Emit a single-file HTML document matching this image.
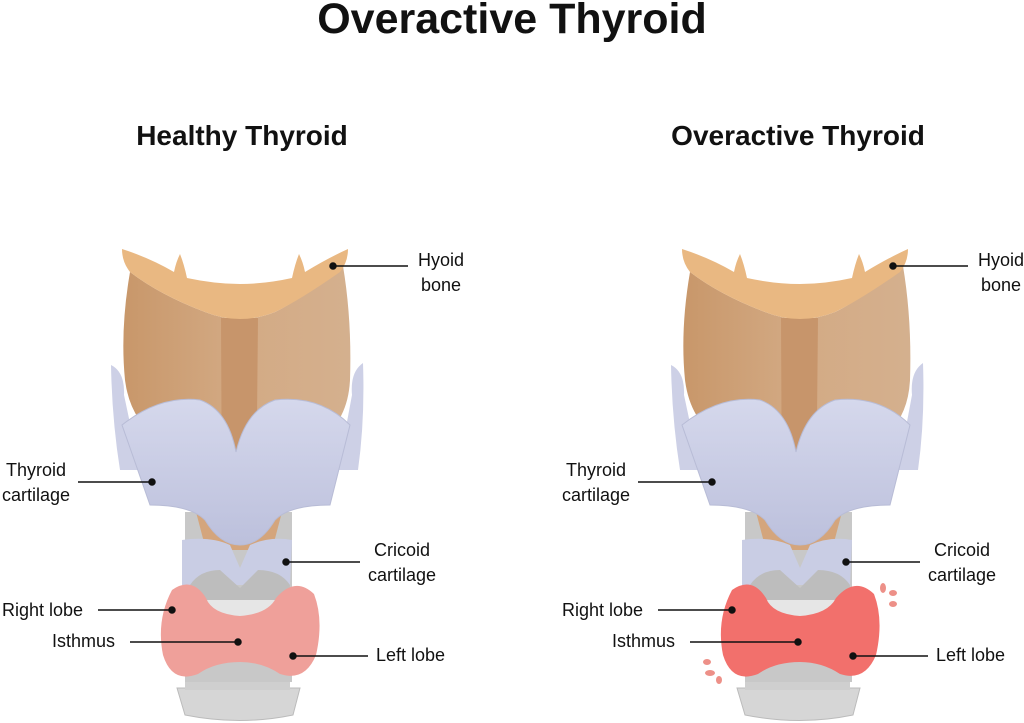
<!DOCTYPE html>
<html><head><meta charset="utf-8"><style>
html,body{margin:0;padding:0;background:#fff;width:1024px;height:723px;overflow:hidden}
svg text{font-family:"Liberation Sans",sans-serif;fill:#111}
</style></head><body>
<svg width="1024" height="723" viewBox="0 0 1024 723" xmlns="http://www.w3.org/2000/svg">
<defs>
<linearGradient id="br" x1="0" x2="1"><stop offset="0" stop-color="#c8976a"/><stop offset="0.5" stop-color="#d3aa84"/><stop offset="1" stop-color="#d4b08e"/></linearGradient>
<linearGradient id="bl" x1="0" x2="0" y1="0" y2="1"><stop offset="0" stop-color="#d5d8ec"/><stop offset="1" stop-color="#bcc0dc"/></linearGradient>
<g id="ill">
  <path d="M177,688 L300,688 L293,715 Q240,726 185,715 Z" fill="#d6d6d6" stroke="#bbb"/>
  <rect x="185" y="675" width="105" height="15" fill="#cfcfcf"/>
  <rect x="185" y="512" width="107" height="170" fill="#c8c8c8"/>
  <rect x="196" y="600" width="88" height="40" fill="#e6e6e6"/>
  <!-- brown body -->
  <path d="M130,272 Q120,330 125,380 Q130,420 160,440 L320,440 Q348,420 350,380 Q352,320 343,266 Q300,300 275,312 Q240,326 205,312 Q160,295 130,272 Z" fill="url(#br)"/>
  <path d="M221,318 L258,318 L256,520 L222,520 Z" fill="#c7956b"/>
  <path d="M196,512 L282,512 L272,550 L206,550 Z" fill="#d4a57c"/>
  <!-- hyoid -->
  <path d="M122,249 Q150,258 174,272 Q176,262 180,254 Q184,264 187,278 Q215,284 240,284 Q265,284 292,278 Q295,264 299,254 Q303,262 305,272 Q328,258 348,249 Q348,262 340,272 Q300,300 275,312 Q240,326 205,312 Q160,295 130,272 Q122,262 122,249 Z" fill="#e9b882"/>
  <!-- blue wings -->
  <path d="M111,365 Q125,372 124,395 L140,470 L120,470 Q112,420 111,365 Z" fill="#cdd0e6"/>
  <path d="M363,363 Q350,372 352,395 L338,470 L358,470 Q365,420 363,363 Z" fill="#cdd0e6"/>
  <path d="M122,425 Q160,395 200,400 Q228,410 236,452 Q246,410 275,400 Q320,395 350,425 L330,505 Q290,505 275,520 Q260,545 240,545 Q220,545 205,520 Q190,505 150,505 Z" fill="url(#bl)" stroke="#b8bcd6"/>
  <path d="M182,540 Q210,536 230,545 L240,568 L250,545 Q270,536 292,540 L290,585 L182,585 Z" fill="#c9cde4"/>
  <path d="M190,585 Q200,570 220,570 L240,588 L258,570 Q280,570 290,585 L288,600 L190,600 Z" fill="#bdbdbd"/>
  <!-- gland -->
  <path d="M172,590 Q192,576 206,598 Q212,614 240,616 Q268,614 276,598 Q295,576 314,594 Q324,620 316,655 Q305,682 280,674 Q262,662 240,662 Q215,662 198,674 Q172,684 163,655 Q156,620 172,590 Z" fill="var(--g)"/>
</g>
</defs>
<text x="512" y="33" text-anchor="middle" font-size="43" font-weight="bold">Overactive Thyroid</text>
<text x="242" y="145" text-anchor="middle" font-size="28" font-weight="bold">Healthy Thyroid</text>
<text x="798" y="145" text-anchor="middle" font-size="28" font-weight="bold">Overactive Thyroid</text>
<use href="#ill" style="--g:#efa09a"/>
<use href="#ill" transform="translate(560,0)" style="--g:#f2706c"/>
<g fill="#ed9088"><ellipse cx="883" cy="588" rx="3" ry="5"/><ellipse cx="893" cy="593" rx="4" ry="3"/><ellipse cx="893" cy="604" rx="4" ry="3"/><ellipse cx="707" cy="662" rx="4" ry="3"/><ellipse cx="710" cy="673" rx="5" ry="3"/><ellipse cx="719" cy="680" rx="3" ry="4"/></g>
<g stroke="#111" stroke-width="1.5" fill="#111">
<line x1="333" y1="266" x2="408" y2="266"/><circle cx="333" cy="266" r="3"/>
<line x1="78" y1="482" x2="152" y2="482"/><circle cx="152" cy="482" r="3"/>
<line x1="286" y1="562" x2="360" y2="562"/><circle cx="286" cy="562" r="3"/>
<line x1="98" y1="610" x2="172" y2="610"/><circle cx="172" cy="610" r="3"/>
<line x1="130" y1="642" x2="238" y2="642"/><circle cx="238" cy="642" r="3"/>
<line x1="293" y1="656" x2="368" y2="656"/><circle cx="293" cy="656" r="3"/>
<line x1="893" y1="266" x2="968" y2="266"/><circle cx="893" cy="266" r="3"/>
<line x1="638" y1="482" x2="712" y2="482"/><circle cx="712" cy="482" r="3"/>
<line x1="846" y1="562" x2="920" y2="562"/><circle cx="846" cy="562" r="3"/>
<line x1="658" y1="610" x2="732" y2="610"/><circle cx="732" cy="610" r="3"/>
<line x1="690" y1="642" x2="798" y2="642"/><circle cx="798" cy="642" r="3"/>
<line x1="853" y1="656" x2="928" y2="656"/><circle cx="853" cy="656" r="3"/>
</g>
<g font-size="18">
<text x="441" y="266" text-anchor="middle">Hyoid</text><text x="441" y="291" text-anchor="middle">bone</text>
<text x="36" y="476" text-anchor="middle">Thyroid</text><text x="36" y="501" text-anchor="middle">cartilage</text>
<text x="402" y="556" text-anchor="middle">Cricoid</text><text x="402" y="581" text-anchor="middle">cartilage</text>
<text x="2" y="616">Right lobe</text><text x="52" y="647">Isthmus</text><text x="376" y="661">Left lobe</text>
<text x="1001" y="266" text-anchor="middle">Hyoid</text><text x="1001" y="291" text-anchor="middle">bone</text>
<text x="596" y="476" text-anchor="middle">Thyroid</text><text x="596" y="501" text-anchor="middle">cartilage</text>
<text x="962" y="556" text-anchor="middle">Cricoid</text><text x="962" y="581" text-anchor="middle">cartilage</text>
<text x="562" y="616">Right lobe</text><text x="612" y="647">Isthmus</text><text x="936" y="661">Left lobe</text>
</g>
</svg>
</body></html>
